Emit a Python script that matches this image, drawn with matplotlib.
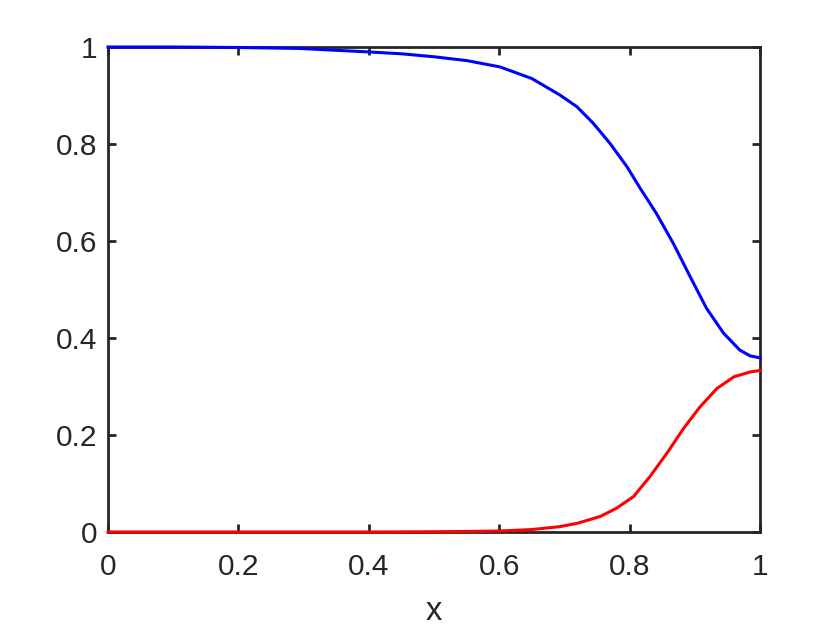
import matplotlib
matplotlib.use("Agg")
import matplotlib.pyplot as plt

# values
x_blue = [0.0, 0.1, 0.2, 0.294, 0.397, 0.45, 0.499, 0.55, 0.601, 0.65, 0.693, 0.719,
          0.744, 0.770, 0.796, 0.816, 0.841, 0.867, 0.893, 0.918, 0.944, 0.969,
          0.985, 1.0]
y_blue = [1.0, 1.0, 0.999, 0.997, 0.990, 0.986, 0.980, 0.972, 0.959, 0.935, 0.901, 0.877,
          0.843, 0.801, 0.753, 0.709, 0.657, 0.595, 0.526, 0.461, 0.410, 0.375,
          0.363, 0.359]

x_red = [0.0, 0.2, 0.4, 0.5, 0.55, 0.6, 0.65, 0.693, 0.72, 0.755, 0.780, 0.806,
         0.831, 0.857, 0.883, 0.908, 0.934, 0.960, 0.985, 1.0]
y_red = [0.0, 0.0, 0.0, 0.0005, 0.001, 0.002, 0.005, 0.011, 0.018, 0.032, 0.049, 0.073,
         0.114, 0.162, 0.214, 0.258, 0.296, 0.320, 0.330, 0.333]

xticks = [0, 0.2, 0.4, 0.6, 0.8, 1]
yticks = [0, 0.2, 0.4, 0.6, 0.8, 1]
tick_labels = ['0', '0.2', '0.4', '0.6', '0.8', '1']

plt.rcParams['font.family'] = ['Liberation Sans', 'DejaVu Sans']

fig = plt.figure(figsize=(8.4, 6.3), dpi=100)
ax = fig.add_axes([0.1286, 0.1556, 0.7762, 0.7698])

ax.plot(x_blue, y_blue, color='#0000ff', lw=2.2, zorder=3, clip_on=False,
        solid_joinstyle='round')
ax.plot(x_red, y_red, color='#ff0000', lw=2.2, zorder=3, clip_on=False,
        solid_joinstyle='round')

ax.set_xlim(0, 1)
ax.set_ylim(0, 1)
ax.set_xticks(xticks)
ax.set_yticks(yticks)
ax.set_xticklabels(tick_labels)
ax.set_yticklabels(tick_labels)
ax.set_xlabel('x', fontsize=23.5, color='#262626', labelpad=11)

ax.tick_params(direction='in', top=True, right=True, length=6, width=2,
               colors='#262626', labelsize=21.5)
ax.tick_params(axis='x', pad=15)
ax.tick_params(axis='y', pad=8)
for s in ax.spines.values():
    s.set_linewidth(2)
    s.set_color('#262626')

fig.savefig('out.png', dpi=100)
